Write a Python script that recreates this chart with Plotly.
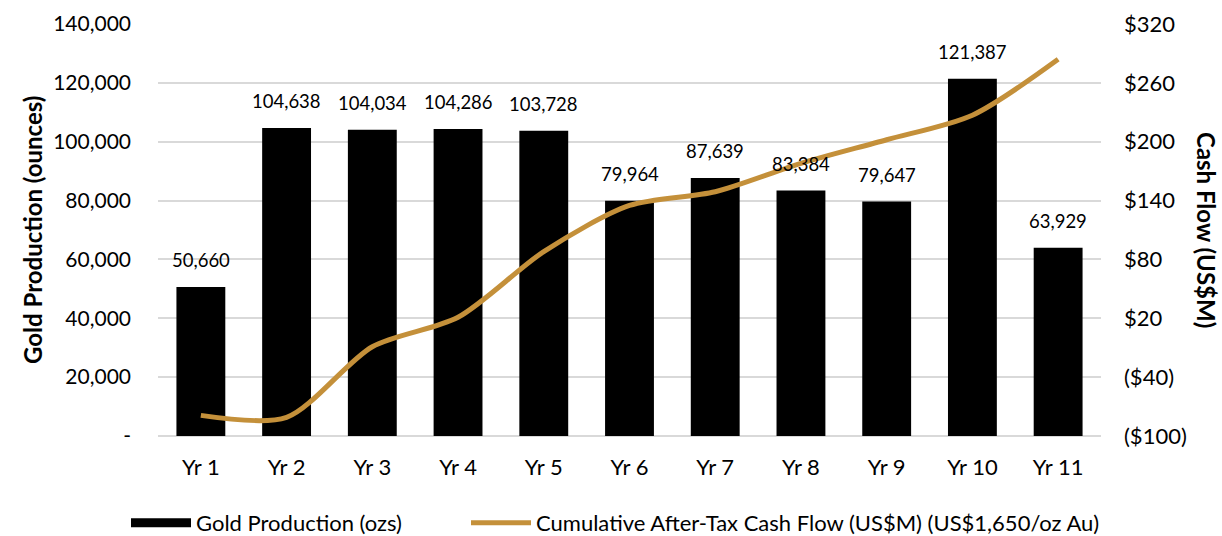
import plotly.graph_objects as go

years = ["Yr 1", "Yr 2", "Yr 3", "Yr 4", "Yr 5", "Yr 6", "Yr 7", "Yr 8", "Yr 9", "Yr 10", "Yr 11"]
gold_oz = [50660, 104638, 104034, 104286, 103728, 79964, 87639, 83384, 79647, 121387, 63929]
cum_cf = [-79, -81, -9, 21, 88, 135, 149, 178, 202, 227, 284]

left_tickvals = [0, 20000, 40000, 60000, 80000, 100000, 120000, 140000]
left_ticktext = ["-", "20,000", "40,000", "60,000", "80,000", "100,000", "120,000", "140,000"]
right_tickvals = [-100, -40, 20, 80, 140, 200, 260, 320]
right_ticktext = ["($100)", "($40)", "$20", "$80", "$140", "$200", "$260", "$320"]

FONT = "Lato, 'Open Sans', sans-serif"
W, H = 1222, 536
ML, MR, MT, MB = 158, 121, 24, 100
plot_w = W - ML - MR
plot_h = H - MT - MB

fig = go.Figure()
fig.add_trace(go.Bar(
    x=years, y=gold_oz, name="Gold Production (ozs)",
    marker=dict(color="#000000", line=dict(width=0)),
    showlegend=False, legendgroup="gold",
))
# legend-only entry so the key shows a wide black bar like the original
fig.add_trace(go.Scatter(
    x=[None], y=[None], name="Gold Production (ozs)", mode="lines",
    line=dict(color="#000000", width=9), legend="legend", legendgroup="gold",
))
fig.add_trace(go.Scatter(
    x=years, y=cum_cf, name="Cumulative After-Tax Cash Flow (US$M) (US$1,650/oz Au)",
    mode="lines", line=dict(color="#C4903A", width=5, shape="spline", smoothing=0.8),
    yaxis="y2", legend="legend2",
))

annotations = [
    dict(x=yr, y=v, xref="x", yref="y", text=f"{v:,}", showarrow=False,
         yanchor="bottom", yshift=14, font=dict(size=18.5, color="#000000"))
    for yr, v in zip(years, gold_oz)
]
annotations += [
    dict(text="<b>Gold Production (ounces)</b>", x=(32 - ML) / plot_w, y=0.5,
         xref="paper", yref="paper", xanchor="center", yanchor="middle",
         textangle=-90, showarrow=False, font=dict(size=24)),
    dict(text="<b>Cash Flow (US$M)</b>", x=(1207 - ML) / plot_w, y=0.5,
         xref="paper", yref="paper", xanchor="center", yanchor="middle",
         textangle=90, showarrow=False, font=dict(size=24)),
]

leg_y = (MT + plot_h - 523) / plot_h
fig.update_layout(
    width=W, height=H,
    margin=dict(l=ML, r=MR, t=MT, b=MB, autoexpand=False),
    plot_bgcolor="white", paper_bgcolor="white",
    font=dict(family=FONT, size=21, color="#000000"),
    bargap=0.43,
    showlegend=True,
    legend=dict(orientation="h", x=(126 - ML) / plot_w, xanchor="left",
                y=leg_y, yanchor="middle", font=dict(size=22), itemwidth=60,
                bgcolor="rgba(0,0,0,0)"),
    legend2=dict(orientation="h", x=(466 - ML) / plot_w, xanchor="left",
                 y=leg_y, yanchor="middle", font=dict(size=22), itemwidth=60,
                 bgcolor="rgba(0,0,0,0)"),
    xaxis=dict(showline=False, ticks="", tickfont=dict(size=22), ticklabelstandoff=16),
    yaxis=dict(range=[0, 140000], tickvals=left_tickvals, ticktext=left_ticktext,
               showgrid=True, gridcolor="#d9d9d9", gridwidth=2, zeroline=True,
               zerolinecolor="#d9d9d9", zerolinewidth=2, ticks="",
               tickfont=dict(size=21), ticklabelstandoff=26),
    yaxis2=dict(range=[-100, 320], tickvals=right_tickvals, ticktext=right_ticktext,
                overlaying="y", side="right", showgrid=False, zeroline=False,
                ticks="", tickfont=dict(size=22), ticklabelstandoff=22),
    annotations=annotations,
)

fig.write_html("out.html", config={"displayModeBar": False},
               post_script="document.body.style.margin='0';document.body.style.overflow='hidden';")
